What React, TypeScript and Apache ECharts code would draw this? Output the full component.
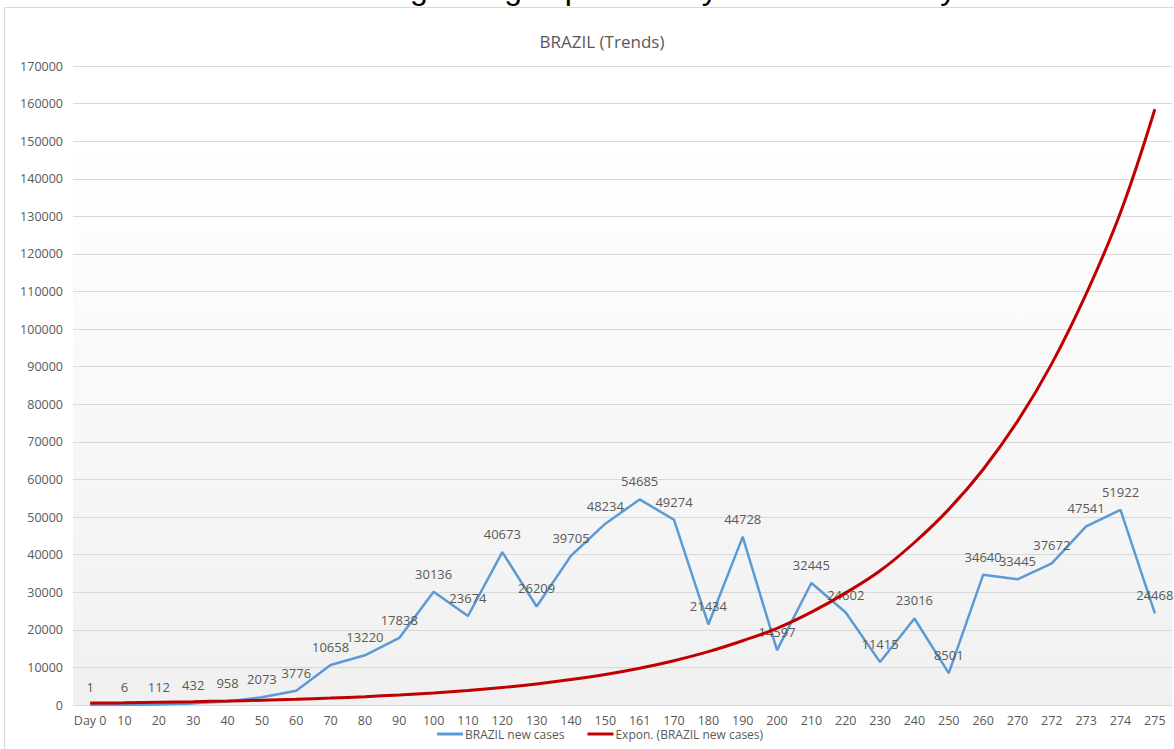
import React, { useEffect, useRef } from "react";
import * as echarts from "echarts";

const categories = [
  "Day 0", "10", "20", "30", "40", "50", "60", "70", "80", "90", "100", "110",
  "120", "130", "140", "150", "161", "170", "180", "190", "200", "210", "220",
  "230", "240", "250", "260", "270", "272", "273", "274", "275",
];

const newCases = [
  1, 6, 112, 432, 958, 2073, 3776, 10658, 13220, 17838, 30136, 23674, 40673,
  26209, 39705, 48234, 54685, 49274, 21434, 44728, 14597, 32445, 24602, 11415,
  23016, 8501, 34640, 33445, 37672, 47541, 51922, 24468,
];

// trendline values at each category
const exponTrend = [
  500, 600, 730, 880, 1060, 1270, 1530, 1840, 2220, 2670, 3220, 3870, 4660,
  5610, 6760, 8130, 9790, 11790, 14190, 17090, 20400, 24700, 29830, 35700,
  43230, 52050, 62660, 75440, 90820, 109350, 131000, 158500,
];

const seriesNames = ["BRAZIL new cases", "Expon. (BRAZIL new cases)"];
const chartTitle = "BRAZIL (Trends)";
const headline =
  "The number of new cases is growing exponentially and consistently at the moment";

const FONT = "'Open Sans', 'Noto Sans', sans-serif";
const GREY = "#595959";

export default function App() {
  const ref = useRef<HTMLDivElement>(null);
  useEffect(() => {
    if (!ref.current) return;
    const chart = echarts.init(ref.current, undefined, { renderer: "svg" });
    chart.setOption({
      animation: false,
      backgroundColor: "#ffffff",
      textStyle: { fontFamily: FONT },
      title: {
        text: chartTitle,
        left: 597,
        top: 28,
        textAlign: "center",
        textStyle: {
          color: GREY,
          fontSize: 17,
          fontWeight: "normal",
          fontFamily: FONT,
        },
      },
      graphic: [
        {
          type: "rect",
          z: -10,
          shape: { x: 4.5, y: 7.5, width: 1300, height: 900 },
          style: { fill: "none", stroke: "#d9d9d9", lineWidth: 1 },
          silent: true,
        },
        {
          type: "text",
          z: 100,
          x: 1,
          y: 4,
          style: {
            text: headline,
            fill: "#000000",
            font: "32px 'Liberation Sans', Arial, sans-serif",
            verticalAlign: "bottom",
            align: "left",
          },
          silent: true,
        },
      ],
      legend: {
        left: 432,
        top: 723,
        icon: "rect",
        itemWidth: 26,
        itemHeight: 3,
        itemGap: 23,
        textStyle: { color: GREY, fontSize: 12, fontFamily: FONT, padding: [0, 0, 0, -3] },
        data: seriesNames,
      },
      grid: {
        left: 73,
        right: 2,
        top: 66,
        bottom: 44,
        show: true,
        borderWidth: 0,
        backgroundColor: new echarts.graphic.LinearGradient(0, 0, 0, 1, [
          { offset: 0, color: "#ffffff" },
          { offset: 0.12, color: "#ffffff" },
          { offset: 1, color: "#f0f0f0" },
        ]),
      },
      xAxis: {
        type: "category",
        data: categories,
        boundaryGap: true,
        axisLine: { show: true, lineStyle: { color: "#d9d9d9", width: 1 } },
        axisTick: { show: false },
        axisLabel: {
          color: GREY,
          fontSize: 12.5,
          fontFamily: FONT,
          margin: 9,
          interval: 0,
        },
        splitLine: { show: false },
      },
      yAxis: {
        type: "value",
        min: 0,
        max: 170000,
        interval: 10000,
        axisLine: { show: false },
        axisTick: { show: false },
        axisLabel: {
          color: GREY,
          fontSize: 12.5,
          fontFamily: FONT,
          margin: 10,
          formatter: (v: number) => String(v),
        },
        splitLine: { show: true, lineStyle: { color: "#d9d9d9", width: 1 } },
      },
      series: [
        {
          name: seriesNames[0],
          type: "line",
          data: newCases,
          z: 2,
          showSymbol: true,
          symbol: "circle",
          symbolSize: 1,
          lineStyle: { color: "#5b9bd5", width: 2.5 },
          itemStyle: { color: "#5b9bd5" },
          label: {
            show: true,
            position: "top",
            distance: 11,
            color: GREY,
            fontSize: 13,
            fontFamily: FONT,
          },
        },
        {
          name: seriesNames[1],
          type: "line",
          data: exponTrend,
          z: 3,
          smooth: 0.4,
          showSymbol: false,
          symbol: "none",
          lineStyle: { color: "#c00000", width: 3 },
          itemStyle: { color: "#c00000" },
        },
      ],
    });
    return () => chart.dispose();
  }, []);
  return (
    <div
      ref={ref}
      style={{ position: "fixed", left: 0, top: 0, width: 1174, height: 749 }}
    />
  );
}
